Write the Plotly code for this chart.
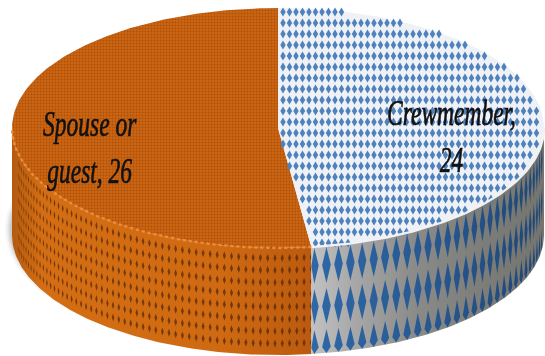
import numpy as np
import plotly.graph_objects as go

# ---- data ----
categories = ["Crewmember", "Spouse or guest"]
values = [24, 26]
text_labels = ["Crewmember,<br>24", "Spouse or<br>guest, 26"]

W, H = 545, 356
cx, cy, rx, ry, depth = 278, 128, 266, 120, 107

total = sum(values)
split = 2 * np.pi * values[0] / total


def top(t, r=1.0):
    return cx + rx * r * np.sin(t), cy - ry * r * np.cos(t)


def wall(t, z):
    return cx + rx * np.sin(t), cy - ry * np.cos(t) + z


def sector(a, b):
    t = np.linspace(a, b, 200)
    x, y = top(t)
    return np.r_[cx, x, cx], np.r_[cy, y, cy]


def band(a, b):
    t = np.linspace(a, b, 150)
    x0, y0 = wall(t, 0)
    x1, y1 = wall(t[::-1], depth)
    return np.r_[x0, x1, x0[0]], np.r_[y0, y1, y0[0]]


def wall_diamonds(a, b, dt, zs, hw, hh):
    """Wall texture: diamonds placed on the curved side so they foreshorten."""
    xs, ys = [], []
    for i, z in enumerate(zs):
        t = a
        while t < b:
            pts = [(t, z - hh), (min(t + hw, b), z), (t, z + hh), (max(t - hw, a), z), (t, z - hh)]
            for p, q in pts:
                q2 = min(max(q, 0), depth)
                x, y = wall(p, q2)
                xs.append(x)
                ys.append(y)
            xs.append(None)
            ys.append(None)
            t += dt
    return xs, ys


def top_diamonds(a, b, px, py, hw, hh):
    xs, ys = [], []
    for X in np.arange(cx + 5, cx + rx, px):
        for Y in np.arange(cy - ry + 4, cy + ry, py):
            u, v = (X - cx) / rx, (Y - cy) / ry
            ang = np.arctan2(u, -v) % (2 * np.pi)
            if u * u + v * v > 0.992 or not (a < ang < b - 0.01):
                continue
            xs += [X, X + hw, X, X - hw, X, None]
            ys += [Y - hh, Y, Y + hh, Y, Y - hh, None]
    return xs, ys


fig = go.Figure()


def poly(x, y, color=None, **kw):
    fig.add_trace(go.Scatter(x=x, y=y, mode="lines", fill="toself", line=dict(width=0),
                             fillcolor=color, hoverinfo="skip", showlegend=False, **kw))


# soft shadow, left side only
t_full = np.linspace(np.pi, 2 * np.pi, 160)
for grow, alpha in [(6, 0.05), (4, 0.07), (2.5, 0.09), (1, 0.1)]:
    sx = cx - 1 + (rx + grow) * np.sin(t_full)
    sy = cy + depth - 6 - (ry + grow) * np.cos(t_full)
    poly(np.r_[sx, sx[0]], np.r_[sy, sy[0]], f"rgba(70,70,80,{alpha})")

# walls
x, y = band(split, 1.5 * np.pi)
poly(x, y, fillgradient=dict(type="horizontal",
                             colorscale=[[0, "#b35a10"], [0.1, "#d46e14"], [0.7, "#cf6a12"], [1, "#bb5a0f"]]))
x, y = wall_diamonds(split, 1.5 * np.pi, np.radians(1.57), np.arange(10, 107, 12.2), np.radians(0.34), 4)
poly(x, y, "rgba(80,36,5,0.7)")

x, y = band(np.pi / 2, split)
poly(x, y, fillgradient=dict(type="horizontal",
                             colorscale=[[0, "#c2c2c2"], [0.18, "#a8a8a8"], [0.45, "#8a8a88"], [0.75, "#7c7c78"], [1, "#75756f"]]))
x, y = wall_diamonds(np.pi / 2, split, np.radians(2.65), [19, 60, 101], np.radians(0.95), 18)
poly(x, y, fillgradient=dict(type="horizontal",
                             colorscale=[[0, "#2f68a6"], [0.45, "#285a94"], [1, "#1f4676"]]))

# top face
x, y = sector(split, 2 * np.pi)
poly(x, y, "#c8610f", fillpattern=dict(shape=".", size=3, solidity=0.3, fgcolor="#ab500b", bgcolor="#cc6512",
                                       fillmode="replace"))
x, y = sector(0, split)
poly(x, y, "#eef1f6")
x, y = top_diamonds(0, split, 6.5, 11, 2.7, 4.6)
poly(x, y, "#4f81bd")

# rims
t = np.linspace(np.pi / 2, split, 80)
fig.add_trace(go.Scatter(x=top(t)[0], y=top(t)[1], mode="lines", hoverinfo="skip", showlegend=False,
                         line=dict(color="#f2f2f2", width=2.2)))
t = np.linspace(split, 1.5 * np.pi, 120)
fig.add_trace(go.Scatter(x=top(t)[0], y=top(t)[1], mode="lines", hoverinfo="skip", showlegend=False,
                         line=dict(color="#f08c35", width=2.4, dash="3px,3px")))

font = dict(family="Liberation Serif", size=23.5, color="#111111")
anns = [dict(x=451, y=136, text=f"<i>{text_labels[0]}</i>"),
        dict(x=90, y=147, text=f"<i>{text_labels[1]}</i>")]
for a in anns:
    fig.add_annotation(xref="x", yref="y", showarrow=False, font=font, align="center", **a)

fig.update_layout(width=W, height=H, margin=dict(l=0, r=0, t=0, b=0), plot_bgcolor="white",
                  paper_bgcolor="white", showlegend=False, hovermode=False,
                  xaxis=dict(range=[0, W], visible=False, fixedrange=True),
                  yaxis=dict(range=[H, 0], visible=False, fixedrange=True))
post = """
document.body.style.margin = '0';
document.documentElement.style.overflow = 'hidden';
document.querySelectorAll('.annotation-text').forEach(function (el) {
  el.style.transformBox = 'fill-box';
  el.style.transformOrigin = 'center';
  el.style.transform = 'scaleY(1.55)';
  el.style.stroke = '#111111';
  el.style.strokeWidth = '0.45px';
});
document.querySelectorAll('.main-svg').forEach(function (el) {
  el.style.filter = 'blur(0.5px)';
});
"""
fig.write_html("out.html", config={"displayModeBar": False}, post_script=post)
